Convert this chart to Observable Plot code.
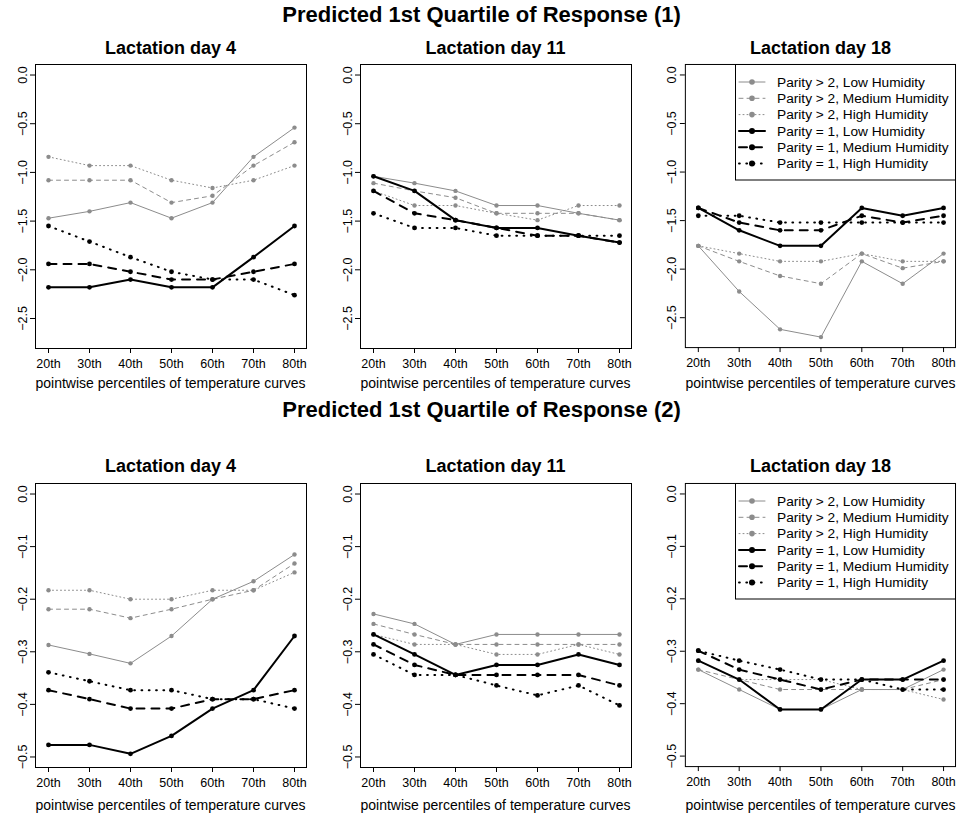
<!DOCTYPE html>
<html><head><meta charset="utf-8">
<script src="https://cdn.jsdelivr.net/npm/d3@7"></script>
<script src="https://cdn.jsdelivr.net/npm/@observablehq/plot@0.6"></script>
<style>
body{margin:0;background:#fff;font-family:"Liberation Sans",Arial,sans-serif;}
#root{position:relative;width:963px;height:818px;overflow:hidden;background:#fff;}
.abs{position:absolute;white-space:nowrap;transform:translate(-50%,-50%);line-height:1;color:#000;}
.main{font-weight:bold;font-size:22px;}
.ptitle{font-weight:bold;font-size:18px;}
.xlab{font-size:14px;}
.plotwrap{position:absolute;}
</style></head>
<body><div id="root"></div>
<script>
const percentiles = ["20th","30th","40th","50th","60th","70th","80th"];
const seriesNames = ["Parity > 2, Low Humidity","Parity > 2, Medium Humidity","Parity > 2, High Humidity",
  "Parity = 1, Low Humidity","Parity = 1, Medium Humidity","Parity = 1, High Humidity"];
const panelTitles = ["Lactation day 4","Lactation day 11","Lactation day 18"];
const mainTitles = ["Predicted 1st Quartile of Response (1)","Predicted 1st Quartile of Response (2)"];
const xLabel = "pointwise percentiles of temperature curves";
const yTicks1 = [0, -0.5, -1, -1.5, -2, -2.5];
const yTicks2 = [0, -0.1, -0.2, -0.3, -0.4, -0.5];

// Response (1)
const resp1Day4 = [
  [-1.47,-1.40,-1.31,-1.47,-1.31,-0.84,-0.54],
  [-1.08,-1.08,-1.08,-1.31,-1.24,-0.93,-0.69],
  [-0.84,-0.93,-0.93,-1.08,-1.16,-1.08,-0.93],
  [-2.18,-2.18,-2.10,-2.18,-2.18,-1.87,-1.55],
  [-1.94,-1.94,-2.02,-2.10,-2.10,-2.02,-1.94],
  [-1.55,-1.71,-1.87,-2.02,-2.10,-2.10,-2.26]];
const resp1Day11 = [
  [-1.04,-1.11,-1.19,-1.34,-1.34,-1.42,-1.49],
  [-1.11,-1.19,-1.26,-1.42,-1.42,-1.42,-1.49],
  [-1.19,-1.34,-1.34,-1.42,-1.49,-1.34,-1.34],
  [-1.04,-1.19,-1.49,-1.57,-1.57,-1.65,-1.72],
  [-1.19,-1.42,-1.49,-1.57,-1.65,-1.65,-1.72],
  [-1.42,-1.57,-1.57,-1.65,-1.65,-1.65,-1.65]];
const resp1Day18 = [
  [-1.76,-2.23,-2.62,-2.70,-1.92,-2.15,-1.84],
  [-1.76,-1.92,-2.07,-2.15,-1.84,-1.99,-1.92],
  [-1.76,-1.84,-1.92,-1.92,-1.84,-1.92,-1.92],
  [-1.37,-1.60,-1.76,-1.76,-1.37,-1.45,-1.37],
  [-1.37,-1.52,-1.60,-1.60,-1.45,-1.52,-1.45],
  [-1.45,-1.45,-1.52,-1.52,-1.52,-1.52,-1.52]];
// Response (2)
const resp2Day4 = [
  [-0.287,-0.304,-0.322,-0.270,-0.200,-0.166,-0.115],
  [-0.219,-0.219,-0.236,-0.219,-0.200,-0.183,-0.132],
  [-0.183,-0.183,-0.200,-0.200,-0.183,-0.183,-0.149],
  [-0.477,-0.477,-0.494,-0.460,-0.408,-0.373,-0.270],
  [-0.373,-0.390,-0.408,-0.408,-0.390,-0.390,-0.373],
  [-0.339,-0.356,-0.373,-0.373,-0.390,-0.390,-0.408]];
const resp2Day11 = [
  [-0.228,-0.247,-0.286,-0.267,-0.267,-0.267,-0.267],
  [-0.247,-0.267,-0.286,-0.286,-0.286,-0.286,-0.286],
  [-0.267,-0.286,-0.286,-0.305,-0.305,-0.286,-0.305],
  [-0.267,-0.305,-0.344,-0.325,-0.325,-0.305,-0.325],
  [-0.286,-0.325,-0.344,-0.344,-0.344,-0.344,-0.364],
  [-0.305,-0.344,-0.344,-0.364,-0.383,-0.364,-0.402]];
const resp2Day18 = [
  [-0.335,-0.373,-0.411,-0.411,-0.373,-0.373,-0.335],
  [-0.335,-0.354,-0.373,-0.373,-0.373,-0.373,-0.354],
  [-0.318,-0.354,-0.354,-0.354,-0.373,-0.373,-0.392],
  [-0.318,-0.354,-0.411,-0.411,-0.354,-0.354,-0.318],
  [-0.299,-0.335,-0.354,-0.373,-0.354,-0.354,-0.354],
  [-0.299,-0.318,-0.335,-0.354,-0.354,-0.373,-0.373]];

const GRAY = "#8c8c8c";
const styles = [
  {color: GRAY, w: 1, dash: null, r: 2.2},
  {color: GRAY, w: 1, dash: "4,4", r: 2.2},
  {color: GRAY, w: 1, dash: "1,3", r: 2.2},
  {color: "#000", w: 2, dash: null, r: 2.4},
  {color: "#000", w: 2, dash: "8,7", r: 2.4},
  {color: "#000", w: 2, dash: "0.8,6.5", r: 2.4}];

const FONT = "'Liberation Sans', Arial, sans-serif";
const root = document.getElementById("root");
const colLeft = [35, 360, 685];
const rowTop = [64, 483];
const FW = 271, FH = 284;

function addText(cls, txt, x, y) {
  const d = document.createElement("div");
  d.className = "abs " + cls; d.textContent = txt;
  d.style.left = x + "px"; d.style.top = y + "px";
  root.appendChild(d);
}

function panel(values, yDomain, yTicks, left, top) {
  const ml = 45, mr = 8, mt = 8, mb = 30;
  const marks = [
    Plot.frame({stroke: "#000", strokeWidth: 1}),
    Plot.axisX({ticks: percentiles, tickSize: 5, tickPadding: 6, label: null, fontSize: 12.5}),
    Plot.axisY({ticks: yTicks, tickFormat: d3.format(".1f"), tickSize: 5, tickPadding: 4,
      tickRotate: -90, textAnchor: "middle", lineAnchor: "bottom", label: null, fontSize: 12.5})
  ];
  values.forEach((arr, si) => {
    const st = styles[si];
    const d = arr.map((v, i) => ({pct: percentiles[i], v}));
    marks.push(Plot.line(d, {x: "pct", y: "v", stroke: st.color, strokeWidth: st.w,
      strokeDasharray: st.dash, strokeLinecap: "round", strokeLinejoin: "round"}));
    marks.push(Plot.dot(d, {x: "pct", y: "v", r: st.r, fill: st.color, stroke: "none"}));
  });
  const p = Plot.plot({
    width: FW + ml + mr, height: FH + mt + mb,
    marginLeft: ml, marginRight: mr, marginTop: mt, marginBottom: mb,
    style: {background: "transparent", fontFamily: FONT, fontSize: "12.5px", overflow: "visible", color: "#000"},
    x: {type: "point", domain: percentiles, padding: 0.24},
    y: {domain: yDomain},
    marks
  });
  const w = document.createElement("div");
  w.className = "plotwrap";
  w.style.left = (left - ml) + "px"; w.style.top = (top - mt) + "px";
  w.appendChild(p);
  root.appendChild(w);
}

function legend(left, top) {
  const W = 220, H = 115.5;
  const svg = d3.create("svg").attr("width", W + 2).attr("height", H + 2)
    .style("position", "absolute").style("left", (left - 1) + "px").style("top", (top) + "px")
    .style("overflow", "visible");
  svg.append("rect").attr("x", 0.5).attr("y", 0.5).attr("width", W).attr("height", H)
    .attr("fill", "#fff").attr("stroke", "#000");
  seriesNames.forEach((name, i) => {
    const st = styles[i];
    const y = 18 + i * 16.3;
    svg.append("line").attr("x1", 4).attr("x2", 30).attr("y1", y).attr("y2", y)
      .attr("stroke", st.color).attr("stroke-width", st.w)
      .attr("stroke-dasharray", st.dash).attr("stroke-linecap", "round");
    svg.append("circle").attr("cx", 17).attr("cy", y).attr("r", st.r + 0.6).attr("fill", st.color);
    svg.append("text").attr("x", 42).attr("y", y).attr("dy", "0.35em")
      .attr("font-family", FONT).attr("font-size", "13.7px").text(name);
  });
  root.appendChild(svg.node());
}

const grid = [[resp1Day4, resp1Day11, resp1Day18], [resp2Day4, resp2Day11, resp2Day18]];
const yDomains = [[-2.808, 0.108], [-0.52, 0.02]];
const yTickSets = [yTicks1, yTicks2];
const mainY = [15, 410];
const titleY = [48, 466];
const xlabY = [383, 805];

for (let r = 0; r < 2; r++) {
  addText("main", mainTitles[r], 481.5, mainY[r]);
  for (let c = 0; c < 3; c++) {
    panel(grid[r][c], yDomains[r], yTickSets[r], colLeft[c], rowTop[r]);
    addText("ptitle", panelTitles[c], colLeft[c] + FW / 2, titleY[r]);
    addText("xlab", xLabel, colLeft[c] + FW / 2, xlabY[r]);
  }
  legend(colLeft[2] + FW - 220, rowTop[r]);
}
</script></body></html>
